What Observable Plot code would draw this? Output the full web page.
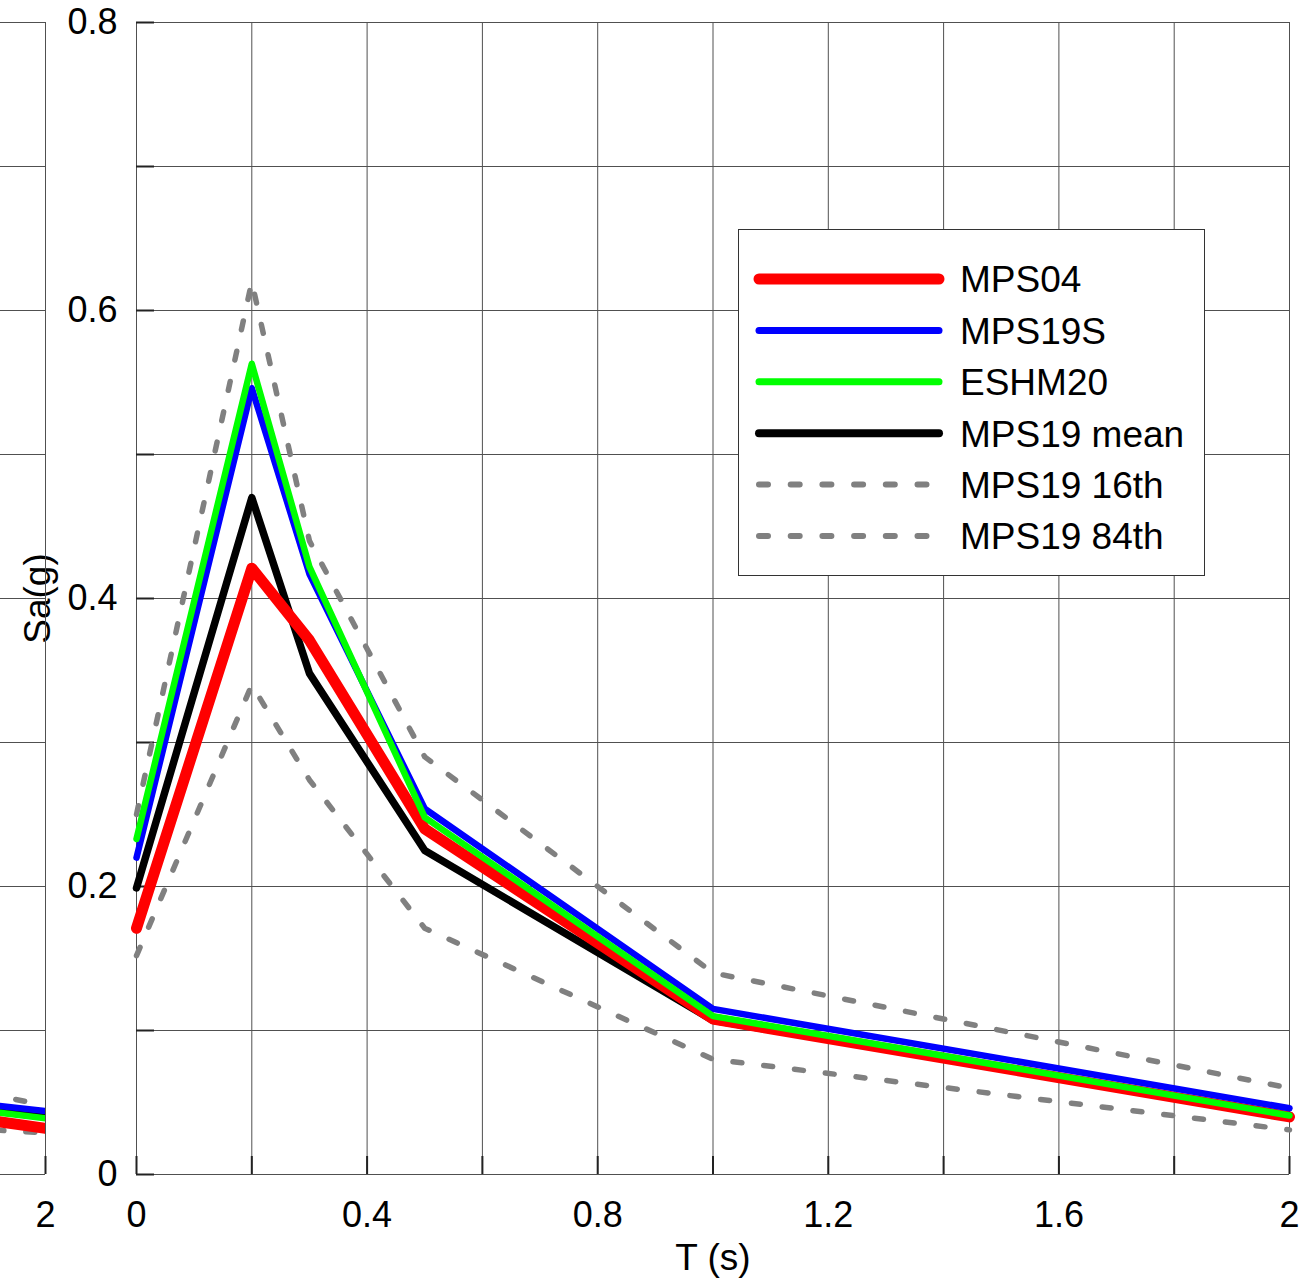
<!DOCTYPE html>
<html><head><meta charset="utf-8">
<script src="https://cdn.jsdelivr.net/npm/d3@7"></script>
<script src="https://cdn.jsdelivr.net/npm/@observablehq/plot@0.6"></script>
<style>
body{margin:0;background:#fff;}
#wrap{position:relative;width:1306px;height:1279px;overflow:hidden;font-family:"Liberation Sans",Arial,sans-serif;}
#wrap > svg{position:absolute;top:0;left:0;overflow:visible;}
#legend{position:absolute;left:738px;top:229px;width:465px;height:345px;border:1px solid #333;background:#fff;}
</style></head><body><div id="wrap"></div>
<script>
// Period T (s)
const T = [0, 0.2, 0.3, 0.5, 1.0, 2.0];
// Spectral acceleration Sa(g), main panel
const MPS04   = [0.171, 0.421, 0.371, 0.240, 0.108, 0.040];
const MPS19S  = [0.220, 0.546, 0.417, 0.254, 0.115, 0.046];
const ESHM20  = [0.233, 0.563, 0.422, 0.248, 0.110, 0.041];
const MPS19mean = [0.199, 0.470, 0.348, 0.225, 0.107, 0.041];
const MPS19p16 = [0.152, 0.340, 0.274, 0.171, 0.080, 0.031];
const MPS19p84 = [0.250, 0.620, 0.440, 0.290, 0.140, 0.060];

// Partially visible panel on the left (only its T=2 end shows)
const Tleft = [1.0, 2.0];
const L_MPS04 = [0.090, 0.032];
const L_MPS19S = [0.090, 0.044];
const L_ESHM20 = [0.088, 0.039];
const L_MPS19mean = [0.086, 0.040];
const L_MPS19p16 = [0.050, 0.029];
const L_MPS19p84 = [0.128, 0.048];

const seriesNames = ["MPS04", "MPS19S", "ESHM20", "MPS19 mean", "MPS19 16th", "MPS19 84th"];
const seriesColors = ["#ff0000", "#0000ff", "#00ff00", "#000000", "#808080", "#808080"];
const seriesWidths = [11, 6.5, 6.5, 7.5, 5.5, 5.5];
const legendWidths = [11, 7, 7, 8, 6, 6];
const seriesDash = [null, null, null, null, "9 22", "9 22"];
const drawOrder = [4, 5, 3, 0, 1, 2];

const xTicks = [0, 0.4, 0.8, 1.2, 1.6, 2];
const xGrid = [0, 0.2, 0.4, 0.6, 0.8, 1.0, 1.2, 1.4, 1.6, 1.8, 2.0];
const yTicks = [0, 0.2, 0.4, 0.6, 0.8];
const yGrid = [0, 0.1, 0.2, 0.3, 0.4, 0.5, 0.6, 0.7, 0.8];

const mainVals = [MPS04, MPS19S, ESHM20, MPS19mean, MPS19p16, MPS19p84];
const leftVals = [L_MPS04, L_MPS19S, L_ESHM20, L_MPS19mean, L_MPS19p16, L_MPS19p84];

const font = '"Liberation Sans", Arial, sans-serif';
const gridColor = "#505050";
const tickFont = 36;

function seriesMarks(xs, valsArr, clip) {
  return drawOrder.map(i => Plot.line(xs.map((t, j) => ({T: t, v: valsArr[i][j]})), {
    x: "T", y: "v", stroke: seriesColors[i], strokeWidth: seriesWidths[i],
    strokeDasharray: seriesDash[i], strokeLinecap: "round", strokeLinejoin: "round", clip
  }));
}

const W = 1306, H = 1279, mL = 136, mR = 17, mT = 22, mB = 105;
const frameW = W - mL - mR, frameH = H - mT - mB;

const main = Plot.plot({
  width: W, height: H, marginLeft: mL, marginRight: mR, marginTop: mT, marginBottom: mB,
  style: {fontFamily: font, fontSize: tickFont + "px", color: "#000", background: "none", overflow: "visible"},
  x: {domain: [0, 2]},
  y: {domain: [0, 0.8]},
  marks: [
    Plot.ruleX(xGrid, {stroke: gridColor, strokeWidth: 1}),
    Plot.ruleY(yGrid, {stroke: gridColor, strokeWidth: 1}),
    Plot.tickX(xGrid, {stroke: "#222", strokeWidth: 2, insetTop: frameH - 18}),
    Plot.tickY(yGrid, {stroke: "#222", strokeWidth: 2, insetRight: frameW - 18}),
    ...seriesMarks(T, mainVals, false),
    Plot.axisX(xTicks, {tickSize: 0, tickPadding: 27, label: null, fontSize: tickFont, tickFormat: d => String(d)}),
    Plot.axisY(yTicks, {tickSize: 0, tickPadding: 19, label: null, fontSize: tickFont, tickFormat: d => String(d)}),
    Plot.text(["T (s)"], {frameAnchor: "bottom", dy: 95, lineAnchor: "bottom", textAnchor: "middle", fontSize: 37, fill: "#000"}),
    Plot.text(["Sa(g)"], {frameAnchor: "left", dx: -98, rotate: -90, lineAnchor: "middle", textAnchor: "middle", fontSize: 37, fill: "#000"})
  ]
});

const left = Plot.plot({
  width: 60, height: H, marginLeft: 0, marginRight: 15, marginTop: mT, marginBottom: mB,
  style: {fontFamily: font, fontSize: tickFont + "px", color: "#000", background: "none", overflow: "visible"},
  x: {domain: [1.922, 2], axis: null},
  y: {domain: [0, 0.8], axis: null},
  marks: [
    Plot.ruleX([2], {stroke: gridColor, strokeWidth: 1}),
    Plot.ruleY(yGrid, {stroke: gridColor, strokeWidth: 1}),
    Plot.tickX([2], {stroke: "#222", strokeWidth: 2, insetTop: frameH - 18}),
    ...seriesMarks(Tleft, leftVals, true),
    Plot.axisX([2], {tickSize: 0, tickPadding: 27, label: null, fontSize: tickFont, tickFormat: d => String(d)})
  ]
});

const wrap = document.getElementById("wrap");
wrap.appendChild(main);
wrap.appendChild(left);

// Legend box drawn on top of the plot area
const leg = document.createElement("div");
leg.id = "legend";
wrap.appendChild(leg);
const lsvg = d3.select(leg).append("svg").attr("width", 465).attr("height", 345)
  .style("position", "absolute").style("left", 0).style("top", 0);
seriesNames.forEach((name, i) => {
  const y = 49 + i * 51.4;
  lsvg.append("line").attr("x1", 20).attr("x2", 200).attr("y1", y).attr("y2", y)
    .attr("stroke", seriesColors[i]).attr("stroke-width", legendWidths[i])
    .attr("stroke-linecap", "round")
    .attr("stroke-dasharray", seriesDash[i] ? "9 22.7" : null);
  lsvg.append("text").attr("x", 221).attr("y", y).attr("dy", "0.36em")
    .attr("font-family", font).attr("font-size", 37).attr("fill", "#000").text(name);
});
</script>
</body></html>
